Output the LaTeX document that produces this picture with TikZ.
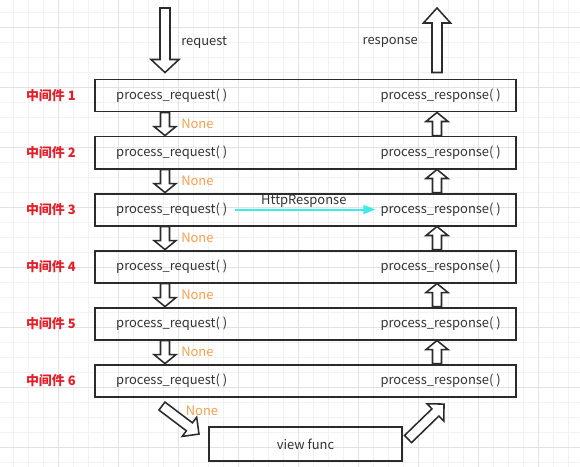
\documentclass[tikz,border=0pt]{standalone}
\usepackage{fontspec}
\setmainfont{Noto Sans CJK SC}
\usepackage{tikz}
\usetikzlibrary{arrows.meta,calc,positioning}

\definecolor{mwred}{HTML}{E3202A}
\definecolor{noneorange}{HTML}{F5A04C}
\definecolor{httpcyan}{HTML}{3DEBEB}
\definecolor{boxgray}{HTML}{2B2B2B}
\definecolor{textgray}{HTML}{333333}

% fat arrow: tail, tip, shaft half width, head half width, head length
\newcommand{\fatarrow}[5]{%
  \coordinate (hb) at ($(#2)!#5!(#1)$);
  \draw[fat arrow] ($(#1)!#3!90:(#2)$) -- ($(hb)!#3!90:(#2)$) -- ($(hb)!#4!90:(#2)$) -- (#2)
    -- ($(hb)!#4!-90:(#2)$) -- ($(hb)!#3!-90:(#2)$) -- ($(#1)!#3!-90:(#2)$) -- cycle;}

\begin{document}
\begin{tikzpicture}[x=0.025cm,y=-0.025cm,node distance=1.425cm,
  font=\fontsize{9.2}{11}\selectfont,text=textgray,
  mw box/.style={draw=boxgray,line width=1.4pt,minimum width=10.525cm,minimum height=0.8cm,inner sep=0},
  mw label/.style={text=mwred,font=\fontsize{9.2}{11}\selectfont\bfseries,inner sep=0},
  call/.style={inner sep=0},
  none label/.style={text=noneorange,inner sep=0},
  fat arrow/.style={draw=boxgray,fill=white,line width=1.1pt,line join=miter},
  http arrow/.style={draw=httpcyan,line width=1.4pt,-{Triangle[length=0.3cm,width=0.22cm]},shorten <=0.2cm,shorten >=0.12cm},
  minor grid/.style={draw={rgb,255:red,242;green,242;blue,242},line width=0.5pt},
  major grid/.style={draw={rgb,255:red,226;green,226;blue,226},line width=0.5pt}]
  \useasboundingbox (0,0) rectangle (580,467);
  \fill[white] (0,0) rectangle (580,467);

  % background grid
  \foreach \gx in {13,28,...,578} \draw[minor grid] (\gx,0) -- (\gx,467);
  \foreach \gy in {12,27,...,466} \draw[minor grid] (0,\gy) -- (580,\gy);
  \foreach \gx in {58,118,...,578} \draw[major grid] (\gx,0) -- (\gx,467);
  \foreach \gy in {27,87,...,466} \draw[major grid] (0,\gy) -- (580,\gy);

  \coordinate (dl) at (165,0);
  \coordinate (ul) at (437,0);

  % middleware boxes
  \node[mw box] (r1) at (305.5,95.5) {};
  \foreach \i [count=\j from 1] in {2,...,6}
    \node[mw box,below of=r\j] (r\i) {};
  \foreach \i in {1,...,6} {
    \node[mw label,anchor=east] (m\i) at ([xshift=-0.45cm]r\i.west) {中间件 \i};
    \node[call,anchor=west] (q\i) at ([xshift=0.55cm]r\i.west) {process\_request( )};
    \node[call,anchor=east] (p\i) at ([xshift=-0.4cm]r\i.east) {process\_response( )};
  }

  % request / response
  \coordinate (rqtail) at (165,8);
  \coordinate (rqtip) at ($(r1.north -| dl)+(0,-6)$);
  \fatarrow{rqtail}{rqtip}{0.125cm}{0.35cm}{0.325cm}
  \node[call,anchor=west] (rq) at (181,42) {request};
  \coordinate (rstail) at ($(r1.north -| ul)+(0,-6)$);
  \coordinate (rstip) at (437,8);
  \fatarrow{rstail}{rstip}{0.125cm}{0.34cm}{0.375cm}
  \node[call,anchor=east] (rs) at (418,42) {response};

  % between the boxes
  \foreach \i [count=\j from 2] in {1,...,5} {
    \coordinate (dt\i) at (r\i.south -| dl);
    \coordinate (dh\i) at (r\j.north -| dl);
    \fatarrow{dt\i}{dh\i}{0.1125cm}{0.275cm}{0.225cm}
    \node[none label,anchor=west] (n\i) at ($(dt\i)!.5!(dh\i)+(16,0)$) {None};
    \coordinate (ut\i) at (r\j.north -| ul);
    \coordinate (uh\i) at (r\i.south -| ul);
    \fatarrow{ut\i}{uh\i}{0.1125cm}{0.275cm}{0.225cm}
  }

  \draw[http arrow] (q3.east) -- node[above=1pt,inner sep=0] (hr) {HttpResponse} (p3.west);

  % view func
  \node[draw=boxgray,line width=1.4pt,minimum width=4.825cm,minimum height=0.85cm,below=0.7125cm of r6] (vf) {view func};
  \coordinate (lt) at ($(r6.south west)+(68,8.5)$);
  \coordinate (lh) at ($(vf.north west)+(-9,8)$);
  \fatarrow{lt}{lh}{0.125cm}{0.3cm}{0.3cm}
  \node[none label] (n6) at ($(lt)!.5!(lh)+(21.5,-9)$) {None};
  \coordinate (vt) at ($(vf.east)+(5,-5)$);
  \coordinate (vh) at ($(r6.south east)+(-73,6.5)$);
  \fatarrow{vt}{vh}{0.125cm}{0.3cm}{0.3cm}
\end{tikzpicture}
\end{document}
